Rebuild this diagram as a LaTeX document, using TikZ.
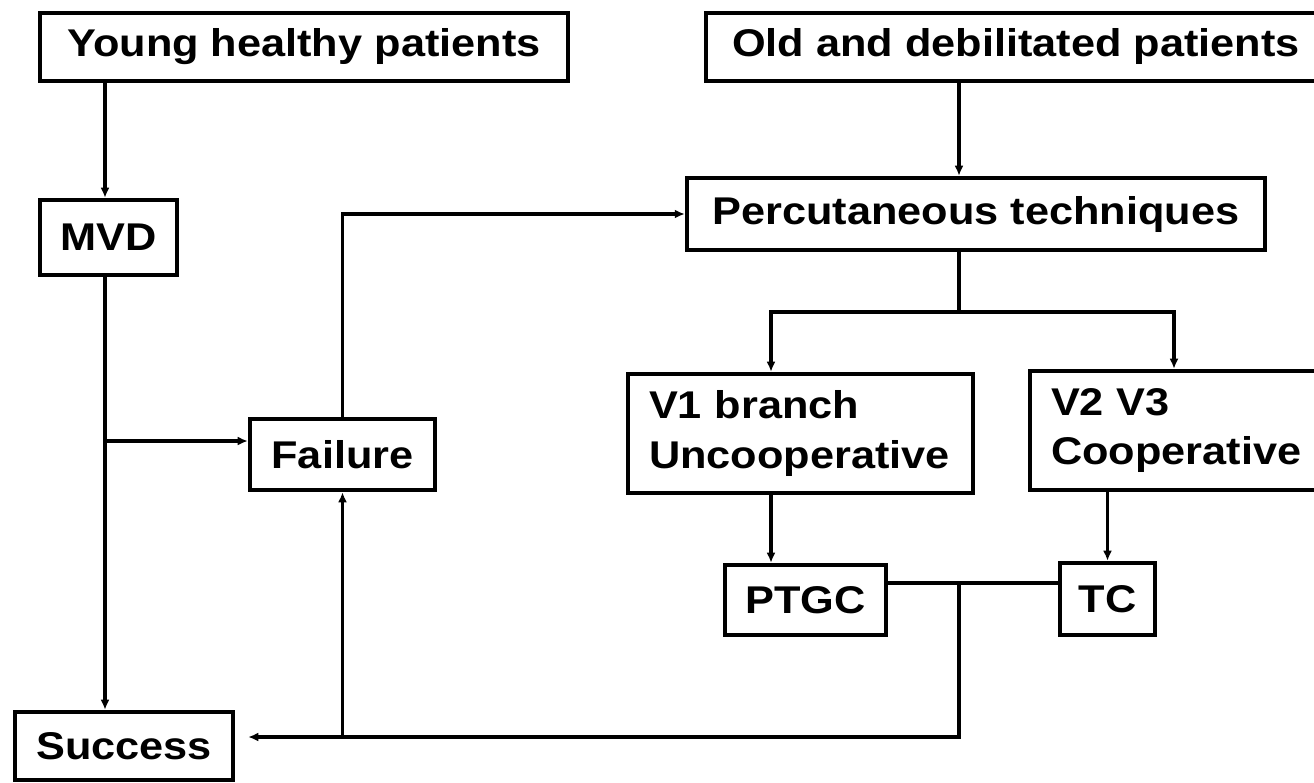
\documentclass[tikz,border=0pt]{standalone}
\usepackage{fontspec}
\setmainfont{Liberation Sans}[FakeStretch=1.12]
\usetikzlibrary{arrows.meta}
\begin{document}
\begin{tikzpicture}
  [x=0.02cm, y=-0.02cm,
  box/.style = {draw, line width=2.6pt, inner sep=0pt,
               font=\fontsize{22}{28}\selectfont\bfseries},
  twoline/.style = {box, align=left, inner xsep=0.42cm, text width=#1},
  link/.style = {line width=2pt},
  >={Latex[length=0.2cm,width=0.18cm]}]
  \useasboundingbox (0,0) rectangle (1314,782);
  \node[box, minimum width=10.56cm, minimum height=1.36cm] (young) at (304,47) {Young healthy patients};
  \node[box, minimum width=12.4cm, minimum height=1.36cm] (old) at (1016,47) {Old and debilitated patients};
  \node[box, minimum width=2.74cm, minimum height=1.5cm] (mvd) at (108.5,237.5) {MVD};
  \node[box, minimum width=11.56cm, minimum height=1.44cm] (perc) at (976,214) {Percutaneous techniques};
  \node[box, minimum width=3.7cm, minimum height=1.42cm] (fail) at (342.5,454.5) {Failure};
  \node[twoline=6.06cm, minimum height=2.38cm] (v1) at (800.5,433.5) {V1 branch\\Uncooperative};
  \node[twoline=5.16cm, minimum height=2.38cm] (v2) at (1180,430.5) {V2 V3\\Cooperative};
  \node[box, minimum width=3.22cm, minimum height=1.4cm] (ptgc) at (805.5,600) {PTGC};
  \node[box, minimum width=1.9cm, minimum height=1.44cm] (tc) at (1107.5,599) {TC};
  \node[box, minimum width=4.36cm, minimum height=1.36cm] (success) at (124,746) {Success};
  % bends of the connectors
  \coordinate (trunk) at (105,441);
  \coordinate (hub) at (959,312);
  \coordinate (left) at (771,312);
  \coordinate (right) at (1174,312);
  \coordinate (join) at (959,583);
  \coordinate (low) at (959,737);
  % left side
  \draw[link,->] (young.south -| trunk) -- (mvd.north -| trunk);
  \draw[link,->] (mvd.south -| trunk) -- (success.north -| trunk);
  \draw[link,->] (trunk) -- (trunk -| fail.west);
  \draw[link,->] (fail.north) |- (perc.west);
  % right side
  \draw[link,->] (old.south -| hub) -- (perc.north -| hub);
  \draw[link] (perc.south -| hub) -- (hub);
  \draw[link,->] (hub) -- (left) -- (left |- v1.north);
  \draw[link,->] (hub) -- (right) -- (right |- v2.north);
  \draw[link,->] (left |- v1.south) -- (left |- ptgc.north);
  \draw[link,->] (tc.north |- v2.south) -- (tc.north);
  \draw[link] (ptgc.east |- join) -- (tc.west |- join);
  \draw[link,->,shorten >=0.26cm] (join) -- (low) -- (low -| success.east);
  \draw[link,->] (fail.south |- low) -- (fail.south);
\end{tikzpicture}
\end{document}
